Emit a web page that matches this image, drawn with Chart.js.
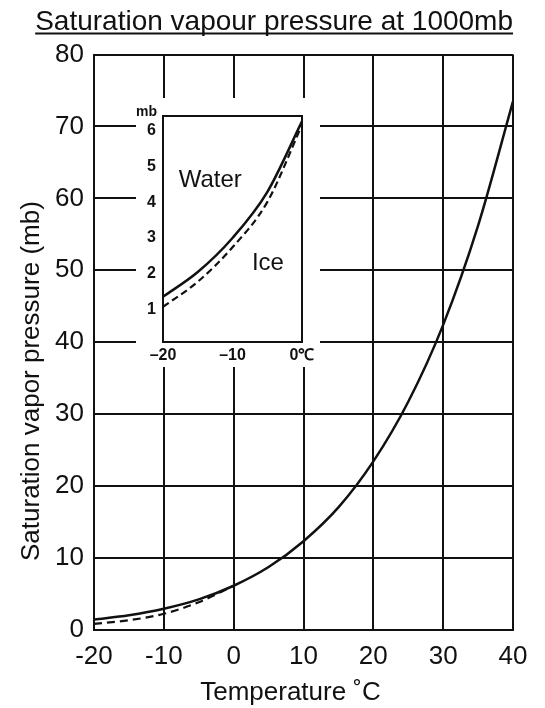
<!DOCTYPE html>
<html>
<head>
<meta charset="utf-8">
<script src="https://cdn.jsdelivr.net/npm/chart.js@4"></script>
<style>
  html, body { margin: 0; padding: 0; background: #fff; }
  #wrap { position: relative; width: 545px; height: 708px; }
  canvas { display: block; }
  #inset { position: absolute; left: 136px; top: 98px; width: 184px; height: 269px; background: #fff; }
</style>
</head>
<body>
<div id="wrap">
  <canvas id="mainChart" width="545" height="708"></canvas>
  <div id="inset"><canvas id="insetChart" width="184" height="269"></canvas></div>
</div>
<script>
// values
const tempsC = [-20, -15, -10, -5, 0, 5, 10, 15, 20, 25, 30, 35, 40];
const waterMb = [1.4, 2.0, 2.9, 4.2, 6.1, 8.7, 12.3, 17.0, 23.4, 31.7, 42.4, 56.2, 73.5];
const iceTempsC = [-20, -15, -10, -5, 0];
const iceMb = [0.8, 1.3, 2.2, 3.8, 6.1];

// inset (enlarged -20..0 range)
const insetTempsC = [-20, -15, -10, -5, 0];
const insetWaterMb = [1.36, 2.05, 3.0, 4.28, 6.25];
const insetIceMb = [1.08, 1.78, 2.74, 4.0, 6.15];

const mainXTicks = [-20, -10, 0, 10, 20, 30, 40];
const mainYTicks = [0, 10, 20, 30, 40, 50, 60, 70, 80];

const ink = '#111';
const F = 'Liberation Sans, Arial, sans-serif';

const pts = (xs, ys) => xs.map((x, i) => ({ x: x, y: ys[i] }));

const underline = {
    id: 'underline',
    afterDraw(chart) {
        const t = chart.titleBlock;
        if (!t) return;
        const opts = chart.options.plugins.title;
        const f = Chart.helpers.toFont(opts.font);
        const pad = Chart.helpers.toPadding(opts.padding);
        const ctx = chart.ctx;
        ctx.save();
        ctx.font = f.string;
        const w = ctx.measureText(opts.text).width;
        const y = t.top + pad.top + f.lineHeight / 2 + f.size * 0.42;
        ctx.strokeStyle = ink;
        ctx.lineWidth = 2;
        ctx.beginPath();
        ctx.moveTo(t.right - w, y);
        ctx.lineTo(t.right, y);
        ctx.stroke();
        ctx.restore();
    }
};

new Chart(document.getElementById('mainChart').getContext('2d'), {
    type: 'line',
    data: {
        datasets: [
            {
                label: 'Ice',
                data: pts(iceTempsC, iceMb),
                borderColor: ink,
                borderWidth: 2.2,
                borderDash: [8, 5],
                pointRadius: 0,
                cubicInterpolationMode: 'monotone',
                fill: false,
            },
            {
                label: 'Water',
                data: pts(tempsC, waterMb),
                borderColor: ink,
                borderWidth: 2.5,
                pointRadius: 0,
                cubicInterpolationMode: 'monotone',
                fill: false,
            }
        ]
    },
    options: {
        responsive: false,
        animation: false,
        layout: { padding: { left: 16, right: 32, top: 0, bottom: 0 } },
        plugins: {
            legend: { display: false },
            tooltip: { enabled: false },
            title: {
                display: true,
                text: 'Saturation vapour pressure at 1000mb',
                align: 'end',
                color: ink,
                font: { family: F, size: 28, weight: 'normal' },
                padding: { top: 5, bottom: 16 }
            }
        },
        scales: {
            x: {
                type: 'linear',
                min: -20,
                max: 40,
                afterBuildTicks: s => { s.ticks = mainXTicks.map(v => ({ value: v })); },
                ticks: { color: ink, font: { family: F, size: 26 }, padding: 12, maxRotation: 0 },
                grid: { color: ink, lineWidth: 2, drawTicks: false },
                border: { color: ink, width: 2 },
                title: {
                    display: true,
                    text: 'Temperature ˚C\u2003',
                    color: ink,
                    font: { family: F, size: 26 },
                    padding: { top: -8, bottom: 0 }
                }
            },
            y: {
                min: 0,
                max: 80,
                afterBuildTicks: s => { s.ticks = mainYTicks.map(v => ({ value: v })); },
                afterFit: s => { s.width = 78; },
                ticks: { color: ink, font: { family: F, size: 26 }, padding: 10 },
                grid: { color: ink, lineWidth: 2, drawTicks: false },
                border: { color: ink, width: 2 },
                title: {
                    display: true,
                    text: 'Saturation vapor pressure (mb)\u2003\u2003\u2003',
                    color: ink,
                    font: { family: F, size: 26 },
                    padding: { top: 0, bottom: 4 }
                }
            }
        }
    },
    plugins: [underline]
});

// inset labels, placed in data units of the inset
const insetNotes = [
    { text: 'Water', x: -13.2, y: 4.6 },
    { text: 'Ice', x: -4.9, y: 2.3 }
];

const notes = {
    id: 'notes',
    afterDatasetsDraw(chart) {
        const ctx = chart.ctx;
        const xs = chart.scales.x, ys = chart.scales.y;
        ctx.save();
        ctx.fillStyle = ink;
        ctx.font = '24px ' + F;
        ctx.textAlign = 'center';
        ctx.textBaseline = 'middle';
        insetNotes.forEach(n => ctx.fillText(n.text, xs.getPixelForValue(n.x), ys.getPixelForValue(n.y)));
        ctx.restore();
    }
};

new Chart(document.getElementById('insetChart').getContext('2d'), {
    type: 'line',
    data: {
        datasets: [
            {
                label: 'Ice',
                data: pts(insetTempsC, insetIceMb),
                borderColor: ink,
                borderWidth: 2.2,
                borderDash: [7, 4],
                pointRadius: 0,
                cubicInterpolationMode: 'monotone',
            },
            {
                label: 'Water',
                data: pts(insetTempsC, insetWaterMb),
                borderColor: ink,
                borderWidth: 2.5,
                pointRadius: 0,
                cubicInterpolationMode: 'monotone',
            }
        ]
    },
    options: {
        responsive: false,
        animation: false,
        layout: { padding: { top: 0, right: 18, bottom: 0, left: 0 } },
        plugins: {
            legend: { display: false },
            tooltip: { enabled: false },
            title: {
                display: true,
                text: 'mb',
                align: 'start',
                color: ink,
                font: { family: F, size: 14, weight: 'bold' },
                padding: { top: 6, bottom: -4.8 }
            }
        },
        scales: {
            x: {
                type: 'linear',
                min: -20,
                max: 0,
                afterFit: s => { s.height = 25; },
                ticks: {
                    stepSize: 10,
                    color: ink,
                    font: { family: F, size: 16, weight: 'bold' },
                    padding: 4,
                    maxRotation: 0,
                    callback: v => v === 0 ? '0℃' : (v < 0 ? '\u2013' + (-v) : v)
                },
                grid: { display: false, drawTicks: false },
                border: { color: ink, width: 2 }
            },
            y: {
                min: 0.1,
                max: 6.4,
                afterFit: s => { s.width = 27; },
                ticks: {
                    stepSize: 1,
                    includeBounds: false,
                    color: ink,
                    font: { family: F, size: 16, weight: 'bold' },
                    padding: 7
                },
                grid: { display: false, drawTicks: false },
                border: { color: ink, width: 2 }
            },
            xTop: {
                type: 'linear',
                position: 'top',
                min: -20,
                max: 0,
                afterFit: s => { s.height = 0; },
                ticks: { display: false },
                grid: { display: false, drawTicks: false },
                border: { color: ink, width: 2 }
            },
            yRight: {
                type: 'linear',
                position: 'right',
                min: 0.1,
                max: 6.4,
                afterFit: s => { s.width = 0; },
                ticks: { display: false },
                grid: { display: false, drawTicks: false },
                border: { color: ink, width: 2 }
            }
        }
    },
    plugins: [notes]
});
</script>
</body>
</html>
